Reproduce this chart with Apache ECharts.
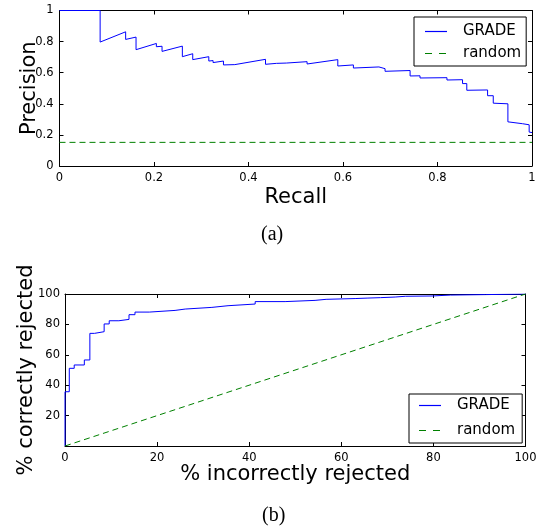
<!DOCTYPE html>
<html>
<head>
<meta charset="utf-8">
<script src="https://cdn.jsdelivr.net/npm/echarts@6/dist/echarts.min.js"></script>
<style>
html,body{margin:0;padding:0;background:#fff;}
#chart{width:540px;height:527px;}
</style>
</head>
<body>
<div id="chart"></div>
<script>
// ---- Data ----
// (a) Precision-recall curve (vertical drops encoded as repeated recall values)
var prRecall = [0, 0.086, 0.086, 0.140, 0.140, 0.162, 0.162, 0.205, 0.205, 0.217, 0.217,
  0.260, 0.260, 0.282, 0.282, 0.316, 0.316, 0.325, 0.325, 0.347, 0.347, 0.371,
  0.436, 0.436, 0.459, 0.459, 0.480, 0.480, 0.524, 0.524, 0.589, 0.589, 0.622, 0.622,
  0.676, 0.676, 0.689, 0.689, 0.742, 0.742, 0.763, 0.763, 0.820, 0.820, 0.853, 0.853,
  0.862, 0.862, 0.906, 0.906, 0.918, 0.918, 0.949, 0.949, 0.980, 0.994, 0.994, 1.0];
var prPrecision = [1, 1, 0.797, 0.863, 0.814, 0.829, 0.748, 0.788, 0.767, 0.770, 0.737,
  0.771, 0.703, 0.722, 0.684, 0.703, 0.675, 0.678, 0.665, 0.675, 0.650, 0.652,
  0.686, 0.654, 0.660, 0.654, 0.662, 0.654, 0.671, 0.656, 0.684, 0.643, 0.650, 0.630,
  0.637, 0.626, 0.626, 0.609, 0.614, 0.579, 0.580, 0.566, 0.568, 0.553, 0.555, 0.530,
  0.530, 0.487, 0.489, 0.452, 0.452, 0.404, 0.400, 0.284, 0.272, 0.265, 0.218, 0.215];
var prRandomRecall = [0, 1];
var prRandomPrecision = [0.152, 0.152];

// (b) Rejection curve: at each x the curve steps up to y
var rocIncorrect = [0, 0, 0.93, 2.0, 4.2, 5.4, 6.4, 8.5, 9.6, 11.7, 13.9, 15.2, 18.3, 23.9,
  26.1, 31.9, 35.4, 41.3, 47.8, 54.3, 56.7, 63.0, 65.6, 68.5, 71.7, 73.9, 79.7, 83.7, 91.3, 100];
var rocCorrect = [0, 35.7, 51.1, 53.3, 56.6, 74.1, 75.2, 80.3, 82.4, 83.3, 86.4, 88.1, 89.2, 90.1,
  91.2, 92.3, 93.4, 95.0, 95.8, 96.5, 97.0, 97.3, 97.6, 98.0, 98.5, 98.7, 99.3, 99.6, 100, 100];
var rocRandomX = [0, 100];
var rocRandomY = [0, 100];

// Tick labels
var prTicks = [0, 0.2, 0.4, 0.6, 0.8, 1];
var rocTicks = [0, 20, 40, 60, 80, 100];

var seriesNames = ['GRADE', 'random'];
var panelLabels = ['(a)', '(b)'];

function zip(a, b) { return a.map(function (v, i) { return [v, b[i]]; }); }

var FONT = 'DejaVu Sans';
var axisCommon = function (ticks, gridIndex, pos, showLabel, extra) {
  var o = {
    type: 'value', gridIndex: gridIndex, position: pos,
    min: ticks[0], max: ticks[ticks.length - 1], interval: ticks[1] - ticks[0],
    axisLine: { show: true, onZero: false, lineStyle: { color: '#000', width: 1 } },
    axisTick: { show: true, inside: true, length: 4, lineStyle: { color: '#000' } },
    axisLabel: { show: showLabel, color: '#000', fontFamily: FONT, fontSize: 11.5, margin: 6 },
    splitLine: { show: false },
    nameMoveOverlap: false
  };
  for (var k in extra) o[k] = extra[k];
  return o;
};

var solidIcon = 'path://M0,0h22v1.2h-22z';
var dashIcon = 'path://M0,0h7v1.2h-7z M14,0h7v1.2h-7z M21.9,0h0.1v0.01h-0.1z';
var legendData = [{ name: seriesNames[0], icon: solidIcon }, { name: seriesNames[1], icon: dashIcon }];

var chart = echarts.init(document.getElementById('chart'), null, { renderer: 'canvas' });
var blue = '#0000ff', green = '#008000';
var option = {
  animation: false,
  backgroundColor: '#fff',
  title: [
    { text: panelLabels[0], left: 256, top: 220, textStyle: { fontFamily: 'Liberation Serif', fontSize: 20, fontWeight: 'normal', color: '#000' } },
    { text: panelLabels[1], left: 257, top: 501, textStyle: { fontFamily: 'Liberation Serif', fontSize: 20, fontWeight: 'normal', color: '#000' } }
  ],
  grid: [
    { left: 59.5, top: 10.5, width: 472.5, height: 155.5 },
    { left: 65, top: 294, width: 460.5, height: 152 }
  ],
  legend: [
    { data: legendData, orient: 'vertical', left: 414, top: 17, itemWidth: 22, itemHeight: 14, itemGap: 7,
      padding: [7, 5, 5, 11], borderColor: '#000', borderWidth: 1, selectedMode: false, backgroundColor: '#fff',
      textStyle: { fontFamily: FONT, fontSize: 15, color: '#000', padding: [0, 0, 0, 11] } },
    { data: legendData, orient: 'vertical', left: 409, top: 394, itemWidth: 22, itemHeight: 14, itemGap: 10,
      padding: [4, 7, 5, 10], borderColor: '#000', borderWidth: 1, selectedMode: false, backgroundColor: '#fff',
      textStyle: { fontFamily: FONT, fontSize: 15, color: '#000', padding: [0, 0, 0, 11] } }
  ],
  xAxis: [
    axisCommon(prTicks, 0, 'bottom', true, { name: 'Recall', nameLocation: 'middle', nameGap: 21,
      nameTextStyle: { fontFamily: FONT, fontSize: 21, color: '#000' } }),
    axisCommon(prTicks, 0, 'top', false, {}),
    axisCommon(rocTicks, 1, 'bottom', true, { name: '% incorrectly rejected', nameLocation: 'middle', nameGap: 18.5,
      nameTextStyle: { fontFamily: FONT, fontSize: 21, color: '#000' } }),
    axisCommon(rocTicks, 1, 'top', false, {})
  ],
  yAxis: [
    axisCommon(prTicks, 0, 'left', true, { name: 'Precision', nameLocation: 'middle', nameGap: 19,
      nameTextStyle: { fontFamily: FONT, fontSize: 21, color: '#000' } }),
    axisCommon(prTicks, 0, 'right', false, {}),
    axisCommon(rocTicks, 1, 'left', true, { name: '% correctly rejected', nameLocation: 'middle', nameGap: 27.5,
      nameTextStyle: { fontFamily: FONT, fontSize: 21, color: '#000' },
      axisLabel: { show: true, color: '#000', fontFamily: FONT, fontSize: 11.5, margin: 5,
        formatter: function (v) { return v === 0 ? '' : String(v); } } }),
    axisCommon(rocTicks, 1, 'right', false, {})
  ],
  series: [
    { name: seriesNames[0], type: 'line', xAxisIndex: 0, yAxisIndex: 0, data: zip(prRecall, prPrecision),
      symbol: 'none', lineStyle: { color: blue, width: 1 }, itemStyle: { color: blue }, z: 3 },
    { name: seriesNames[1], type: 'line', xAxisIndex: 0, yAxisIndex: 0, data: zip(prRandomRecall, prRandomPrecision),
      symbol: 'none', lineStyle: { color: green, width: 1, type: [6, 4] }, itemStyle: { color: green } },
    { name: seriesNames[0], type: 'line', xAxisIndex: 2, yAxisIndex: 2, data: zip(rocIncorrect, rocCorrect),
      step: 'end', symbol: 'none', lineStyle: { color: blue, width: 1 }, itemStyle: { color: blue }, z: 3 },
    { name: seriesNames[1], type: 'line', xAxisIndex: 2, yAxisIndex: 2, data: zip(rocRandomX, rocRandomY),
      symbol: 'none', lineStyle: { color: green, width: 1, type: [6, 4] }, itemStyle: { color: green } }
  ]
};
chart.setOption(option);
</script>
</body>
</html>
